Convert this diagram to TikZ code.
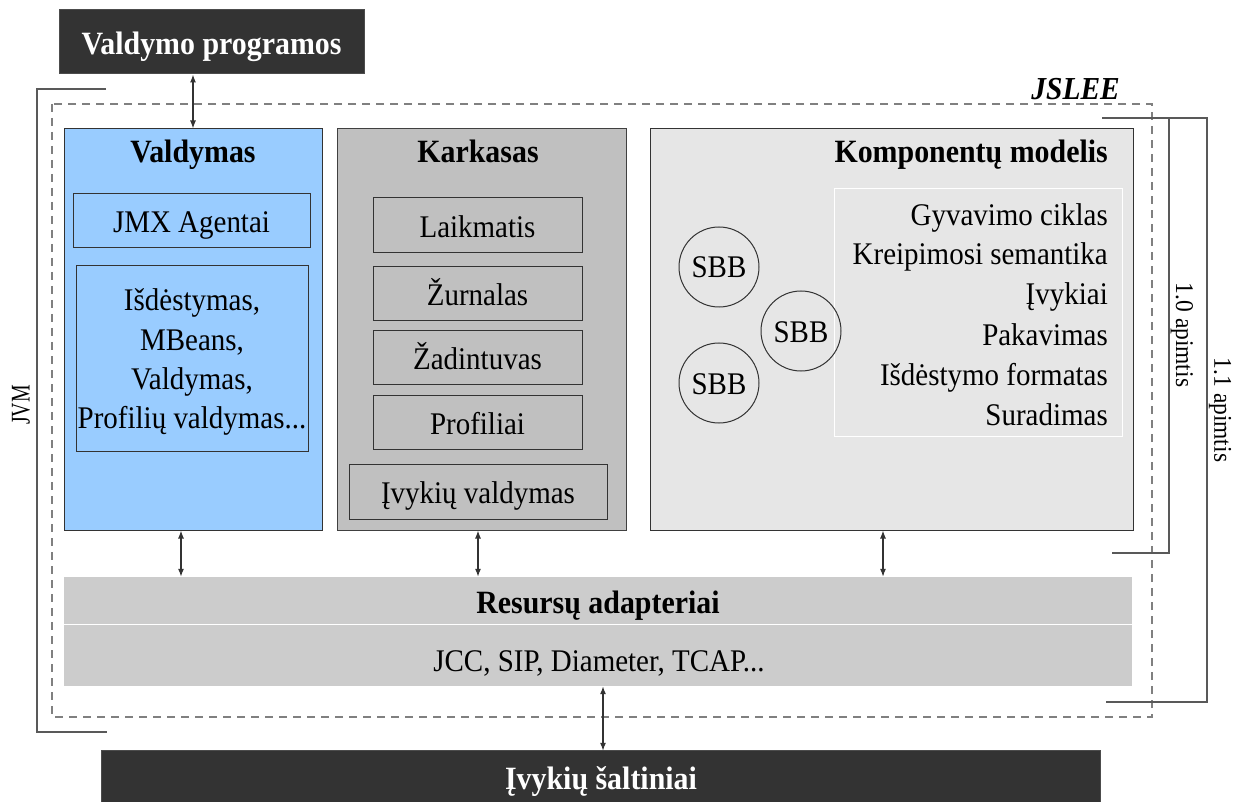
\documentclass[tikz,border=0pt]{standalone}
\usepackage{fontspec}
\setmainfont{Liberation Serif}[FakeStretch=0.92]
\usetikzlibrary{arrows.meta}
\definecolor{dark}{HTML}{333333}
\definecolor{valblue}{HTML}{99CCFF}
\definecolor{karkgray}{HTML}{C0C0C0}
\definecolor{kompgray}{HTML}{E6E6E6}
\definecolor{ragray}{HTML}{CCCCCC}
\definecolor{dashgray}{HTML}{808080}
\begin{document}
\begin{tikzpicture}[x=1pt,y=-1pt,
  regtext/.style={font=\fontsize{31.5}{36}\selectfont},
  headtext/.style={font=\fontsize{32.5}{38}\selectfont\bfseries},
  panel/.style={draw=dark, line width=1pt, inner sep=0pt, minimum height=401pt},
  itembox/.style={draw=dark, line width=1pt, inner sep=0pt, text height=24pt, text depth=0pt, regtext},
  txt/.style={inner sep=0pt, anchor=base},
  sbb/.style={circle, draw=dark, line width=1pt, minimum size=80pt, inner sep=0pt, text height=22pt, text depth=0pt, regtext},
  biarrow/.style={{Latex[length=8pt,width=6pt]}-{Latex[length=8pt,width=6pt]}, line width=1.2pt, draw=black!80},
  bracket/.style={draw=black!65, line width=1.3pt}]
\useasboundingbox (0,0) rectangle (1245,802);

% outer JSLEE container
\draw[dashgray, line width=1.4pt, dash pattern=on 8pt off 6pt] (52,104) rectangle (1152,717);
\node[txt, anchor=base east, font=\fontsize{32}{38}\selectfont\bfseries\itshape] (jslee) at (1120,100) {JSLEE};

% JVM bracket
\draw[bracket] (106,89) -- (37,89) -- (37,732) -- (107,732);
\node[inner sep=0pt, rotate=90, font=\fontsize{27}{30}\selectfont] (jvm) at (21,405) {\scalebox{0.8}[1]{JVM}};

% specification scope brackets
\draw[bracket] (1102,118) -- (1207,118) -- (1207,702) -- (1106,702);
\draw[bracket] (1169,118) -- (1169,553) -- (1112,553);
\node[inner sep=0pt, rotate=-90, font=\fontsize{25.5}{28}\selectfont] (scope10) at (1182,335) {1.0 apimtis};
\node[inner sep=0pt, rotate=-90, font=\fontsize{25.5}{28}\selectfont] (scope11) at (1220,410) {1.1 apimtis};

% external systems
\node[draw=black!70, fill=dark, line width=1pt, inner sep=0pt, text=white, text height=26pt, text depth=0pt, headtext, minimum width=305pt, minimum height=64pt] (mgmtapps) at (211.5,42) {Valdymo programos};
\node[draw=none, fill=dark, inner sep=0pt, text=white, text height=26pt, text depth=0pt, headtext, minimum width=998pt, minimum height=51pt] (sources) at (601,776.5) {Įvykių šaltiniai};
\draw[black!70, line width=1pt] (sources.south west) -- (sources.north west) -- (sources.north east) -- (sources.south east);

% management panel
\node[panel, fill=valblue, minimum width=258pt] (valdymas) at (193,329.5) {};
\node[txt, headtext] (valdymasT) at (193,163) {Valdymas};
\node[itembox, fill=valblue, minimum width=237pt, minimum height=54pt] (jmx) at (191.5,221) {JMX Agentai};
\node[draw=dark, line width=1pt, fill=valblue, minimum width=232pt, minimum height=185pt, inner sep=0pt] (mgmtlist) at (192,358.5) {};
\node[txt, regtext] (m1) at (192,311) {Išdėstymas,};
\node[txt, regtext] (m2) at (192,350) {MBeans,};
\node[txt, regtext] (m3) at (192,389) {Valdymas,};
\node[txt, regtext] (m4) at (192,428) {Profilių valdymas...};

% framework panel
\node[panel, fill=karkgray, draw=black!75, minimum width=289pt] (karkasas) at (481.5,329.5) {};
\node[txt, headtext] (karkasasT) at (478,163) {Karkasas};
\node[itembox, fill=karkgray, minimum width=209pt, minimum height=55pt] (timer) at (477.5,225.5) {Laikmatis};
\node[itembox, fill=karkgray, minimum width=209pt, minimum height=54pt] (trace) at (477.5,294) {Žurnalas};
\node[itembox, fill=karkgray, minimum width=209pt, minimum height=53pt] (alarm) at (477.5,357.5) {Žadintuvas};
\node[itembox, fill=karkgray, minimum width=209pt, minimum height=54pt] (profiles) at (477.5,422) {Profiliai};
\node[itembox, fill=karkgray, minimum width=258pt, minimum height=55pt] (events) at (478,491.5) {Įvykių valdymas};

% component model panel
\node[panel, fill=kompgray, minimum width=483pt] (komp) at (891.5,329.5) {};
\node[txt, headtext, anchor=base east] (kompT) at (1108,163) {Komponentų modelis};
\node[draw=white, line width=1pt, fill=kompgray, minimum width=288pt, minimum height=247pt, inner sep=0pt] (komplist) at (978,312.5) {};
\node[txt, regtext, anchor=base east] (k1) at (1108,226) {Gyvavimo ciklas};
\node[txt, regtext, anchor=base east] (k2) at (1108,265) {Kreipimosi semantika};
\node[txt, regtext, anchor=base east] (k3) at (1108,305) {Įvykiai};
\node[txt, regtext, anchor=base east] (k4) at (1108,345) {Pakavimas};
\node[txt, regtext, anchor=base east] (k5) at (1108,385) {Išdėstymo formatas};
\node[txt, regtext, anchor=base east] (k6) at (1108,425) {Suradimas};
\node[sbb] (sbb1) at (719,267) {SBB};
\node[sbb] (sbb2) at (801,331) {SBB};
\node[sbb] (sbb3) at (719,383) {SBB};

% resource adaptors
\node[fill=ragray, inner sep=0pt, minimum width=1068pt, minimum height=47pt] (ra) at (598,600.5) {};
\node[fill=ragray, inner sep=0pt, minimum width=1068pt, minimum height=62pt] (ralist) at (598,655) {};
\draw[white, line width=1.2pt] (ra.south west) -- (ra.south east);
\node[txt, headtext] (raT) at (598,613) {Resursų adapteriai};
\node[txt, regtext] (raL) at (599,671) {JCC, SIP, Diameter, TCAP...};

% connectors
\coordinate (cv) at (181,0);
\coordinate (ck) at (478,0);
\coordinate (cc) at (883,0);
\coordinate (cs) at (603,0);
\draw[biarrow] (mgmtapps.south -| valdymas.north) -- (valdymas.north);
\draw[biarrow] (valdymas.south -| cv) -- (ra.north -| cv);
\draw[biarrow] (karkasas.south -| ck) -- (ra.north -| ck);
\draw[biarrow] (komp.south -| cc) -- (ra.north -| cc);
\draw[biarrow] (ralist.south -| cs) -- (sources.north -| cs);
\end{tikzpicture}
\end{document}
